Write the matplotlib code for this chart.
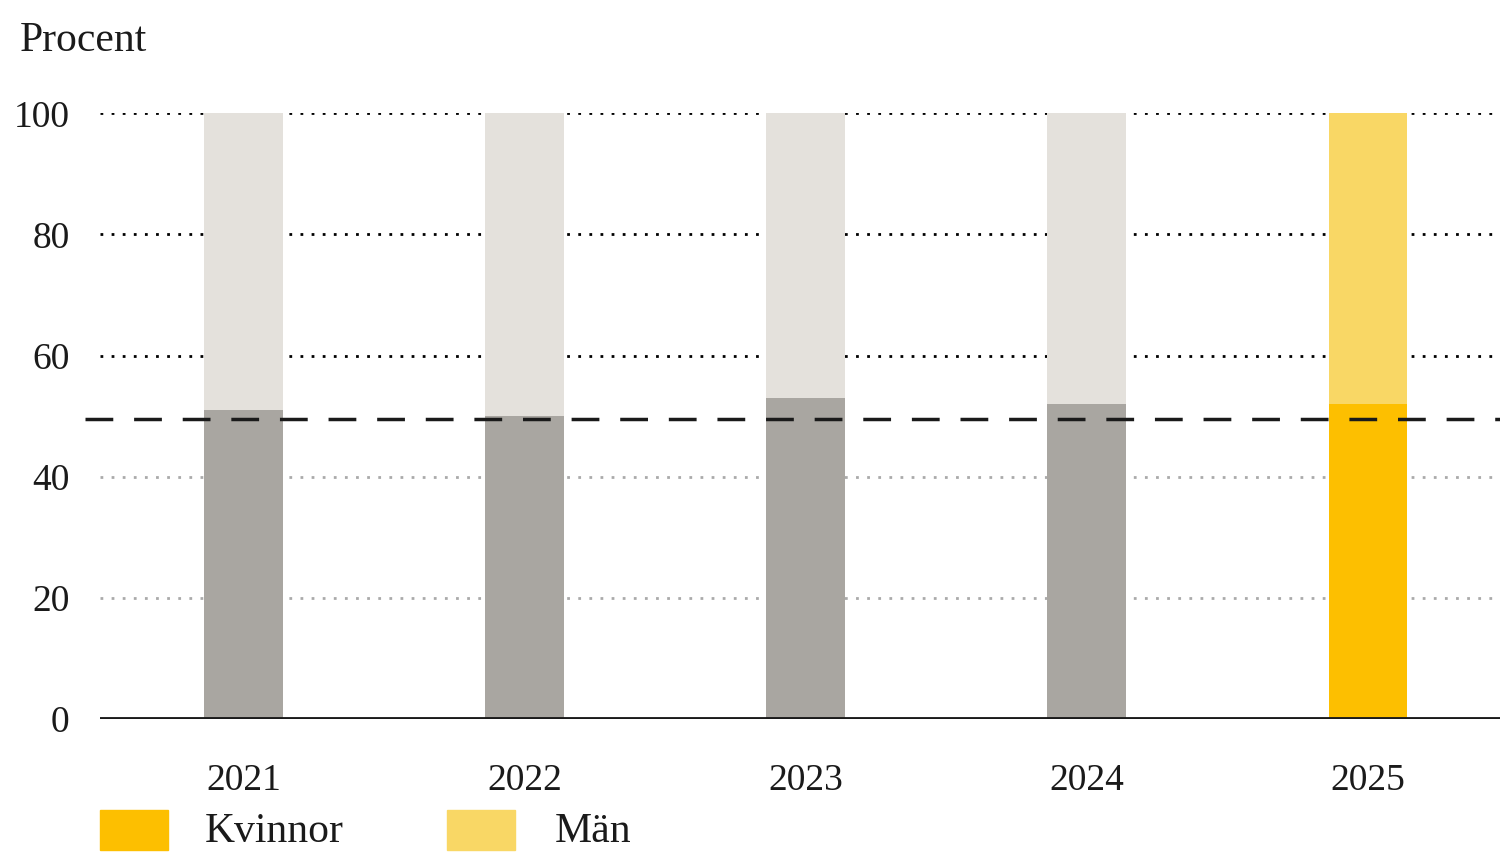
import matplotlib
matplotlib.use("Agg")
import matplotlib.pyplot as plt
from matplotlib.patches import Rectangle
import matplotlib.transforms as mtransforms

years = ["2021", "2022", "2023", "2024", "2025"]
kvinnor = [51, 50, 53, 52, 52]
man = [100 - v for v in kvinnor]
legend_labels = ["Kvinnor", "Män"]

plt.rcParams['font.family'] = ['Liberation Serif', 'DejaVu Serif']
fig = plt.figure(figsize=(15, 8.65), dpi=100)
ax = fig.add_axes([0.0667, 0.169, 0.9333, 0.7])
x = list(range(len(years)))
bottom_cols = ['#a9a6a1'] * 4 + ['#fdbf00']
top_cols = ['#e4e1dc'] * 4 + ['#f9d765']
ax.bar(x, kvinnor, width=0.28, color=bottom_cols, zorder=2)
ax.bar(x, man, bottom=kvinnor, width=0.28, color=top_cols, zorder=2)

for v in [60, 80, 100]:
    ax.axhline(v, color='black', ls=(0, (1, 3)), lw=2, zorder=1)
for v in [20, 40]:
    ax.axhline(v, color='#aaaaaa', ls=(0, (1, 3)), lw=2, zorder=1)
ax.axhline(0, color='#1a1a1a', lw=3.5, zorder=3)
tr = mtransforms.blended_transform_factory(ax.transAxes, ax.transData)
ax.plot([-0.011, 1], [49.5, 49.5], transform=tr, color='#1a1a1a', lw=2.5,
        ls=(0, (8, 6)), clip_on=False, zorder=4)

ax.set_xlim(-0.51, 4.47)
ax.set_ylim(0, 100)
ax.set_xticks(x)
ax.set_xticklabels(years)
ax.set_yticks([0, 20, 40, 60, 80, 100])
ax.tick_params(length=0, labelsize=27, colors='#1a1a1a')
ax.tick_params(axis='x', pad=32)
ax.tick_params(axis='y', pad=22)
for s in ax.spines.values():
    s.set_visible(False)
fig.text(0.013, 0.953, "Procent", fontsize=30, va='center', color='#1a1a1a')

W, H = 1500, 865
for (px, tx), col, lab in zip([(100, 205), (447, 555)], ['#fdbf00', '#f9d765'], legend_labels):
    fig.patches.append(Rectangle((px / W, 1 - 850 / H), 68 / W, 40 / H,
                                 transform=fig.transFigure, color=col))
    fig.text(tx / W, 1 - 832 / H, lab, fontsize=30, va='center', color='#1a1a1a')
fig.savefig("out.png", dpi=100)
